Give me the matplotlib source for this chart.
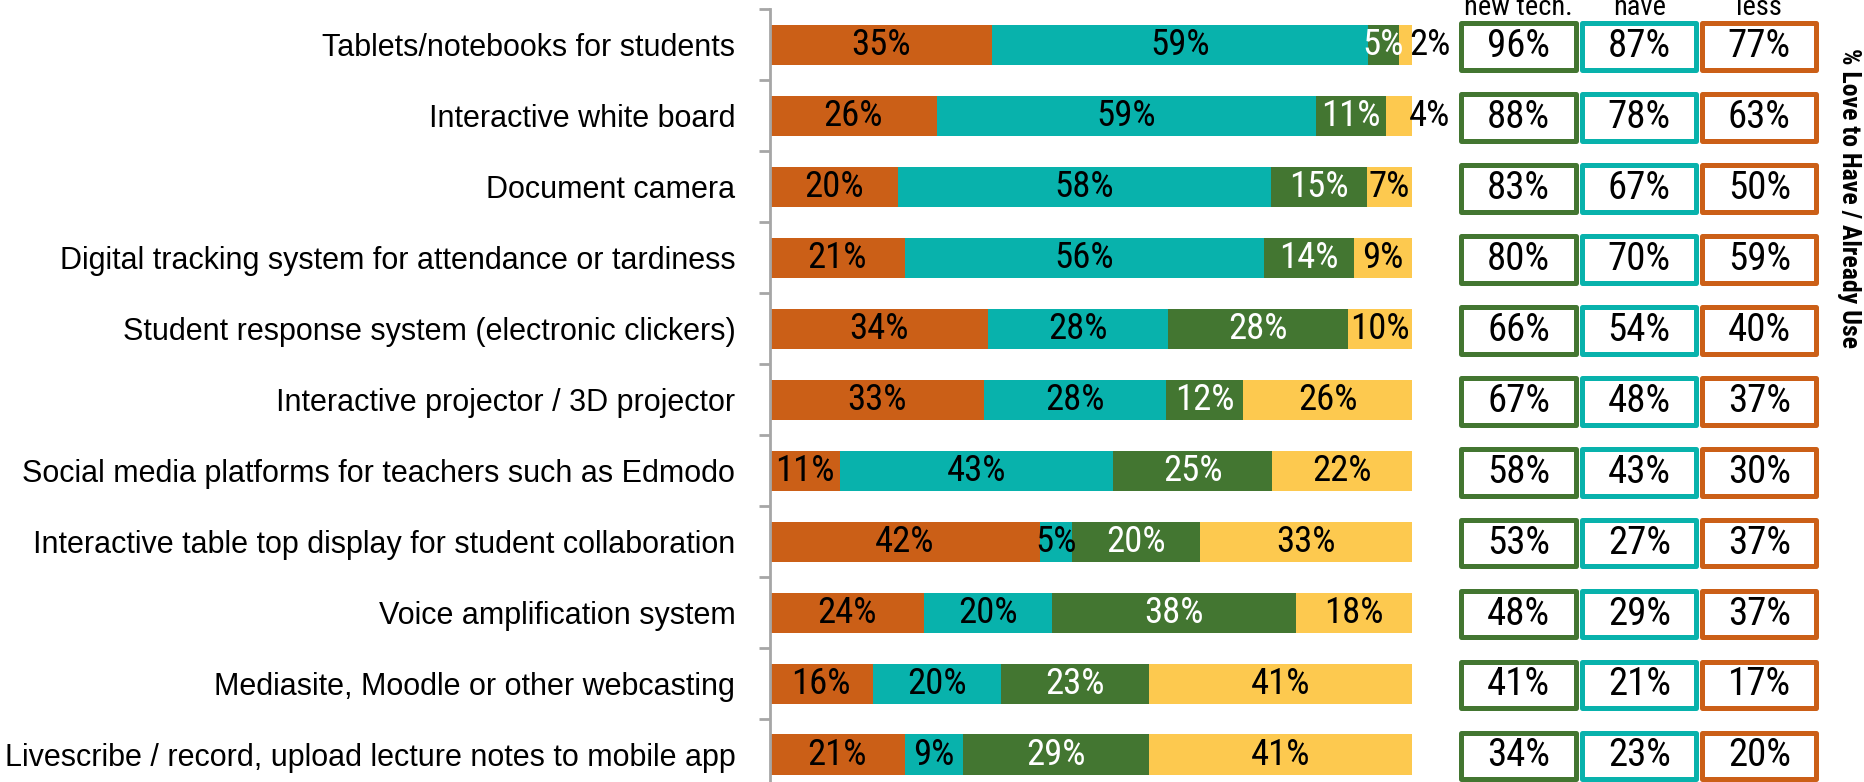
import matplotlib

matplotlib.use("Agg")

import matplotlib.pyplot as plt
import numpy as np
from matplotlib.patches import Rectangle

categories = [
    "Tablets/notebooks for students",
    "Interactive white board",
    "Document camera",
    "Digital tracking system for attendance or tardiness",
    "Student response system (electronic clickers)",
    "Interactive projector / 3D projector",
    "Social media platforms for teachers such as Edmodo",
    "Interactive table top display for student collaboration",
    "Voice amplification system",
    "Mediasite, Moodle or other webcasting",
    "Livescribe / record, upload lecture notes to mobile app",
]

# stacked shares per item (left to right)
seg_orange = [35, 26, 20, 21, 34, 33, 11, 42, 24, 16, 21]
seg_teal = [59, 59, 58, 56, 28, 28, 43, 5, 20, 20, 9]
seg_green = [5, 11, 15, 14, 28, 12, 25, 20, 38, 23, 29]
seg_yellow = [2, 4, 7, 9, 10, 26, 22, 33, 18, 41, 41]

# "% love to have / already use" by group
col_headers = ["new tech.", "have", "less"]
love_new_tech = [96, 88, 83, 80, 66, 67, 58, 53, 48, 41, 34]
love_have = [87, 78, 67, 70, 54, 48, 43, 27, 29, 21, 23]
love_less = [77, 63, 50, 59, 40, 37, 30, 37, 37, 17, 20]

ORANGE = "#CB5F17"
TEAL = "#08B2AC"
GREEN = "#437631"
YELLOW = "#FDC94F"
AXIS_GRAY = "#A6A6A6"

NARROW = ["Roboto Condensed", "Archivo Narrow", "PT Sans Narrow", "Liberation Sans"]
REGULAR = ["Liberation Sans", "DejaVu Sans"]

W, H = 1864, 782
AX_LEFT_PX, BAR_END_PX, AX_TOP_PX, AX_BOT_PX = 770, 1412, 9.5, 790
PX_PER_UNIT = (BAR_END_PX - AX_LEFT_PX) / 100.0

fig = plt.figure(figsize=(W / 100, H / 100), dpi=100)
ax = fig.add_axes([
    AX_LEFT_PX / W,
    (H - AX_BOT_PX) / H,
    (W - AX_LEFT_PX) / W,
    (AX_BOT_PX - AX_TOP_PX) / H,
])
n = len(categories)
ax.set_xlim(0, (W - AX_LEFT_PX) / PX_PER_UNIT)
ax.set_ylim(n - 0.5, -0.5)

y = np.arange(n)
segments = np.array([seg_orange, seg_teal, seg_green, seg_yellow], dtype=float)
shares = segments / segments.sum(axis=0) * 100
colors = [ORANGE, TEAL, GREEN, YELLOW]
text_colors = ["black", "black", "white", "black"]

left = np.zeros(n)
for vals, share, c, tc in zip(segments, shares, colors, text_colors):
    ax.barh(y, share, left=left, height=0.565, color=c, edgecolor="none")
    for i in range(n):
        if vals[i] < 5:
            # too thin for a label inside, put it just past the bar end
            x, col = left[i] + share[i] + 2.8, "black"
        else:
            x, col = left[i] + share[i] / 2, tc
        ax.text(x, y[i], f"{vals[i]:.0f}%", ha="center", va="center",
                fontsize=26.5, color=col, family=NARROW)
    left += share

# outlined boxes on the right
box_cx = [116.6, 135.4, 154.1]
box_w, box_h = 17.8, 0.66
box_colors = [GREEN, TEAL, ORANGE]
for cx, vals, ec, head in zip(box_cx, [love_new_tech, love_have, love_less],
                              box_colors, col_headers):
    for i, v in enumerate(vals):
        ax.add_patch(Rectangle((cx - box_w / 2, y[i] + 0.02 - box_h / 2), box_w, box_h,
                               facecolor="white", edgecolor=ec, linewidth=3.6,
                               joinstyle="round", clip_on=False))
        ax.text(cx, y[i] + 0.02, f"{v}%", ha="center", va="center",
                fontsize=28, color="black", family=NARROW)
    ax.text(cx, -0.42, head, ha="center", va="baseline", fontsize=20.5,
            color="black", family=NARROW, clip_on=False)

ax.text(168.1, 0.043, "% Love to Have / Already Use", rotation=270,
        ha="center", va="top", fontsize=18.5, fontweight="bold",
        family=NARROW, clip_on=False)

# category axis: gray spine, ticks at row boundaries
for s in ["top", "right", "bottom"]:
    ax.spines[s].set_visible(False)
ax.spines["left"].set_color(AXIS_GRAY)
ax.spines["left"].set_linewidth(2)
ax.set_xticks([])
ax.set_yticks(np.arange(n + 1) - 0.5)
ax.set_yticklabels([])
ax.tick_params(axis="y", which="major", length=8, width=2, color=AXIS_GRAY)
ax.set_yticks(y, minor=True)
ax.set_yticklabels(categories, minor=True, fontsize=22, family=REGULAR)
ax.tick_params(axis="y", which="minor", length=0, pad=25)

fig.savefig("out.png", dpi=100)
